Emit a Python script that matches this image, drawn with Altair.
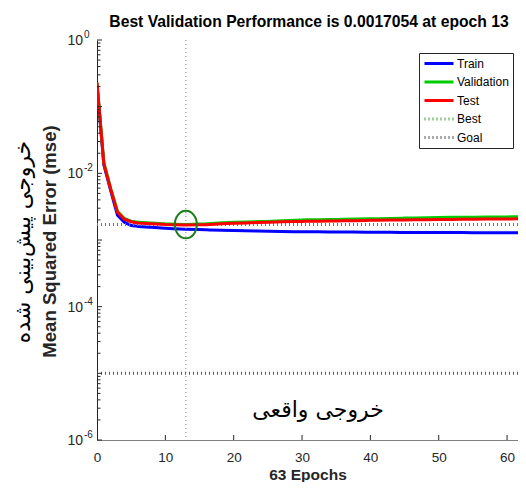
import altair as alt
import pandas as pd

# ---------------- data ----------------
epochs = [0, 1, 2, 3, 4, 5, 6, 8, 10, 13, 16, 20, 25, 30, 35, 40, 45, 50, 55, 60, 63]
train_mse = [0.21, 0.0135, 0.0055, 0.00235, 0.00185, 0.00165, 0.0016, 0.00155, 0.0015,
             0.00145, 0.00142, 0.00139, 0.00135, 0.00133, 0.00132, 0.00131, 0.0013,
             0.0013, 0.00129, 0.00129, 0.00128]
val_mse = [0.23, 0.0145, 0.006, 0.0027, 0.0021, 0.00192, 0.00185, 0.0018, 0.00175,
           0.0017054, 0.00175, 0.00185, 0.0019, 0.002, 0.00203, 0.00208, 0.00213,
           0.00218, 0.0022, 0.00222, 0.00224]
test_mse = [0.23, 0.014, 0.0058, 0.0026, 0.00205, 0.00188, 0.0018, 0.00175, 0.00171,
            0.00168, 0.0017, 0.00178, 0.00185, 0.0019, 0.00193, 0.00197, 0.002,
            0.00203, 0.00205, 0.00207, 0.00209]
best_epoch = 13
best_perf = 0.0017054
goal = 1e-5
x_view_max = 61.6   # visible part of the 63-epoch axis (the figure is cropped at the right)

series_names = ["Train", "Validation", "Test", "Best", "Goal"]
series_colors = ["#0000ff", "#00cc00", "#ff0000", "#3a9e3a", "#555555"]
series_dash = [[12, 0], [12, 0], [12, 0], [1, 3], [1, 3]]
series_width = [3, 3, 3, 1, 1]

x_tick_vals = [0, 10, 20, 30, 40, 50, 60]
y_label_vals = [1, 1e-2, 1e-4, 1e-6]
y_label_exps = ["0", "-2", "-4", "-6"]
y_major = [10.0 ** e for e in range(-6, 1)]
y_minor = [k * 10.0 ** e for e in range(-6, 0) for k in range(2, 10)]

title_text = "Best Validation Performance is 0.0017054 at epoch 13"
x_title = "63 Epochs"
y_title = "Mean Squared Error  (mse)"
fa_y_label = "خروجی پیش‌بینی شده"
fa_x_label = "خروجی واقعی"

FONT = "Liberation Sans"
FA_FONT = "DejaVu Sans"
W, H = 421, 400

# ---------------- tables ----------------
rows = []
for name, vals in [("Train", train_mse), ("Validation", val_mse), ("Test", test_mse)]:
    for e, v in zip(epochs, vals):
        rows.append({"epoch": e, "mse": v, "series": name})
df = pd.DataFrame(rows)

x_scale = alt.Scale(domain=[0, x_view_max], nice=False, zero=False)
y_scale = alt.Scale(type="log", domain=[1e-6, 1], nice=False)

x_axis = alt.Axis(values=x_tick_vals, title=x_title, ticks=False, grid=False,
                  domainColor="#808080", labelFont=FONT, labelFontSize=13.5,
                  labelColor="#262626", labelPadding=10, labelFlush=False,
                  titleFont=FONT, titleFontSize=15.5, titleFontWeight="bold",
                  titleColor="#262626", titleY=39, titleBaseline="alphabetic")
y_axis = alt.Axis(values=[1], labels=False, ticks=False, grid=False,
                  domainColor="#262626", title=y_title, titleFont=FONT,
                  titleFontSize=18.6, titleFontWeight="bold", titleColor="#262626",
                  titleX=-48, titleY=201, titleAngle=270, titleAlign="center",
                  titleBaseline="middle")


def X(field):
    return alt.X(field, scale=x_scale, axis=x_axis)


def Y(field):
    return alt.Y(field, scale=y_scale, axis=y_axis)


leg = alt.Legend(title=None)
color_enc = alt.Color("series:N", scale=alt.Scale(domain=series_names, range=series_colors), legend=leg)
dash_enc = alt.StrokeDash("series:N", scale=alt.Scale(domain=series_names, range=series_dash), legend=leg)
width_enc = alt.StrokeWidth("series:N", scale=alt.Scale(domain=series_names, range=series_width), legend=leg)

# best / goal reference rules
best_h = alt.Chart(pd.DataFrame({"mse": [best_perf], "series": ["Best"]})).mark_rule().encode(
    y=Y("mse:Q"), color=color_enc, strokeDash=dash_enc, strokeWidth=width_enc)
best_v = alt.Chart(pd.DataFrame({"epoch": [best_epoch]})).mark_rule(
    color="#5fa55f", strokeDash=[1, 3], strokeWidth=1).encode(x=X("epoch:Q"))
goal_h = alt.Chart(pd.DataFrame({"mse": [goal], "series": ["Goal"]})).mark_rule().encode(
    y=Y("mse:Q"), color=color_enc, strokeDash=dash_enc, strokeWidth=width_enc)


def series_layer(name):
    return alt.Chart(df).transform_filter(alt.datum.series == name).mark_line(clip=True).encode(
        x=X("epoch:Q"), y=Y("mse:Q"),
        color=color_enc, strokeDash=dash_enc, strokeWidth=width_enc)


train_l = series_layer("Train")
val_l = series_layer("Validation")
test_l = series_layer("Test")

# green ellipse around best point
ellipse = alt.Chart(pd.DataFrame({"epoch": [best_epoch], "mse": [best_perf]})).mark_point(
    shape="M-0.8,0A0.8,1 0 1,0 0.8,0A0.8,1 0 1,0 -0.8,0Z", size=756,
    filled=False, color="#1b7d1b", strokeWidth=2, opacity=1).encode(
    x=X("epoch:Q"), y=Y("mse:Q"))

# inward ticks
ymaj_t = alt.Chart(pd.DataFrame({"mse": y_major})).mark_rule(color="#262626", strokeWidth=1).encode(
    y=Y("mse:Q"), x=alt.value(0), x2=alt.value(5))
ymin_t = alt.Chart(pd.DataFrame({"mse": y_minor})).mark_rule(color="#262626", strokeWidth=1).encode(
    y=Y("mse:Q"), x=alt.value(0), x2=alt.value(3.5))
x_t = alt.Chart(pd.DataFrame({"epoch": x_tick_vals[1:]})).mark_rule(color="#262626", strokeWidth=1).encode(
    x=X("epoch:Q"), y=alt.value(H), y2=alt.value(H - 5))

# y tick labels 10^k
lab_df = pd.DataFrame({"mse": y_label_vals, "base": ["10"] * 4, "exp": y_label_exps})
ylab_base = alt.Chart(lab_df).mark_text(font=FONT, fontSize=14, align="right", baseline="middle",
                                       color="#262626", dy=1).encode(
    y=Y("mse:Q"), x=alt.value(-14), text="base:N")
ylab_exp = alt.Chart(lab_df).mark_text(font=FONT, fontSize=10, align="left", baseline="middle",
                                      color="#262626", dy=-5).encode(
    y=Y("mse:Q"), x=alt.value(-13), text="exp:N")

# title and Persian annotations
title_l = alt.Chart(pd.DataFrame({"t": [title_text]})).mark_text(
    font=FONT, fontSize=15.7, fontWeight="bold", align="center", baseline="alphabetic",
    color="#000000").encode(x=alt.value(212), y=alt.value(-13), text="t:N")
fa_y = alt.Chart(pd.DataFrame({"t": [fa_y_label]})).mark_text(
    font=FA_FONT, fontSize=22, angle=270, align="center", baseline="middle", color="#000000").encode(
    x=alt.value(-74), y=alt.value(202), text="t:N")
fa_x = alt.Chart(pd.DataFrame({"t": [fa_x_label]})).mark_text(
    font=FA_FONT, fontSize=22, align="center", baseline="middle", color="#000000").encode(
    x=alt.value(221), y=alt.value(370), text="t:N")

chart = alt.layer(
    train_l, best_h, best_v, goal_h, val_l, test_l, ellipse,
    ymaj_t, ymin_t, x_t, ylab_base, ylab_exp, title_l, fa_y, fa_x
).properties(
    width=W, height=H,
    autosize=alt.AutoSizeParams(type="none"),
    padding={"left": 89, "top": 32, "right": 0, "bottom": 42},
).configure_view(stroke=None).configure_legend(
    orient="none", legendX=322, legendY=13, strokeColor="#262626", fillColor="#ffffff",
    padding=4, symbolType="stroke", symbolSize=841, clipHeight=13, rowPadding=5.5,
    labelFont=FONT, labelFontSize=12, labelColor="#000000", labelOffset=2, cornerRadius=0
)

chart.save("out.html", embed_options={"renderer": "svg", "actions": False})
